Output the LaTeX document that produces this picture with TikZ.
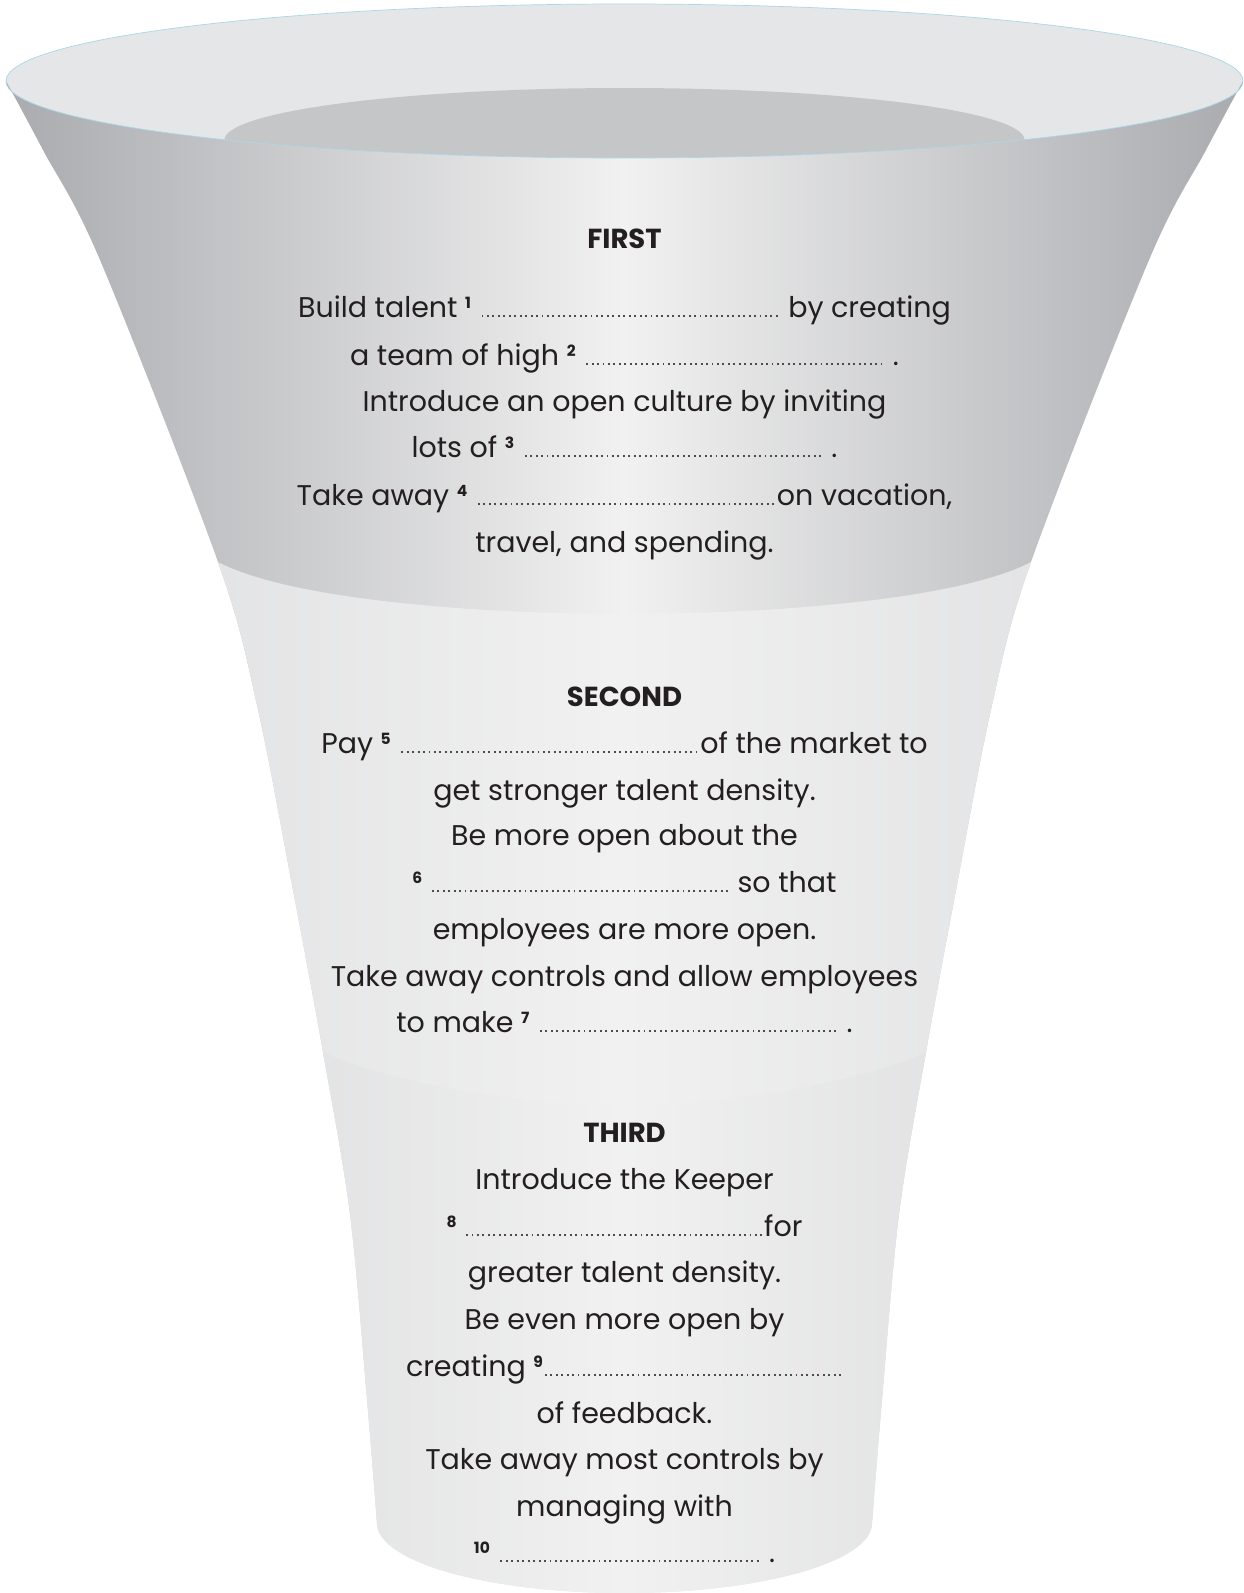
\documentclass[tikz,border=0pt]{standalone}
\usepackage{fontspec}
\setmainfont{Poppins}
\definecolor{rimtop}{HTML}{E5E6E8}
\definecolor{innerc}{HTML}{C5C6C8}
\definecolor{edgeA}{HTML}{AAABAF}
\definecolor{midc}{HTML}{F1F1F1}
\definecolor{edgeB}{HTML}{DCDDDF}
\definecolor{edgeC}{HTML}{D4D5D7}
\definecolor{rimline}{HTML}{A9D6E8}
\definecolor{ink}{HTML}{231F20}
\newcommand\sn[1]{\raisebox{9pt}{\fontsize{15.5}{15.5}\selectfont\bfseries #1}}
\newcommand\blank[1]{{\color{black!70}\cleaders\hbox to 5.45pt{\hss\rule{1.9pt}{1.9pt}\hss}\hskip #1\relax}}
\tikzset{
  txt/.style={anchor=base, text=ink, inner sep=0pt, font=\fontsize{28.5}{30}\selectfont},
  head/.style={anchor=base, text=ink, inner sep=0pt, font=\fontsize{27.5}{30}\selectfont\bfseries}
}
\def\bodypath{(6,81) -- plot[smooth,tension=0.55] coordinates {(6,81) (43,150) (100,260) (218,562) (257,705) (293,890) (323,1052) (350,1214) (367,1399) (377,1523)} -- plot[domain=180:360,samples=80] ({624.5+247.5*cos(\x)},{1523-70*sin(\x)}) -- plot[smooth,tension=0.55] coordinates {(872,1523) (882,1399) (899,1214) (926,1052) (956,890) (992,705) (1031,562) (1149,260) (1206,150) (1243,81)} -- plot[domain=180:360,samples=120] ({624.5-618.5*cos(\x)},{81-77*sin(\x)}) -- cycle}
\begin{document}
\begin{tikzpicture}[x=1pt,y=-1pt]
\useasboundingbox (0,0) rectangle (1244,1593);
% rim interior
\fill[rimtop] (624.5,81) ellipse [x radius=618.5, y radius=77];
\begin{scope}
  \clip (624.5,81) ellipse [x radius=618.5, y radius=77];
  \fill[innerc] (624.5,140) ellipse [x radius=400, y radius=52];
\end{scope}
% body
\begin{scope}
  \clip \bodypath;
  \shade[left color=edgeA, right color=edgeA, middle color=midc] (6,0) rectangle (1243,1593);
  \shade[left color=edgeB, right color=edgeB, middle color=midc]
    (0,560) -- (218,562) .. controls (290,600) and (480,614) .. (624.5,614)
    .. controls (769,614) and (959,600) .. (1031,562) -- (1244,560) -- (1244,1593) -- (0,1593) -- cycle;
  \shade[left color=edgeC, right color=edgeC, middle color=midc]
    (0,1050) -- (323,1052) .. controls (380,1080) and (520,1106) .. (624.5,1106)
    .. controls (729,1106) and (869,1080) .. (926,1052) -- (1244,1050) -- (1244,1593) -- (0,1593) -- cycle;
\end{scope}
\draw[rimline, line width=0.7pt] (624.5,81) ellipse [x radius=618.5, y radius=77];
% FIRST
\node[head] (h1) at (624.5,248) {FIRST};
\node[txt] (a1) at (624.5,317) {Build talent \sn{1} \blank{302pt} by creating};
\node[txt] (a2) at (624.5,365) {a team of high \sn{2} \blank{302pt} .};
\node[txt] (a3) at (624.5,411) {Introduce an open culture by inviting};
\node[txt] (a4) at (624.5,457) {lots of \sn{3} \blank{302pt} .};
\node[txt] (a5) at (624.5,505) {Take away \sn{4} \blank{302pt}on vacation,};
\node[txt] (a6) at (624.5,552) {travel, and spending.};
% SECOND
\node[head] (h2) at (624.5,706) {SECOND};
\node[txt] (b1) at (624.5,753) {Pay \sn{5} \blank{302pt}of the market to};
\node[txt] (b2) at (624.5,800) {get stronger talent density.};
\node[txt] (b3) at (624.5,845) {Be more open about the};
\node[txt] (b4) at (624.5,892) {\sn{6} \blank{300pt} so that};
\node[txt] (b5) at (624.5,939) {employees are more open.};
\node[txt] (b6) at (624.5,986) {Take away controls and allow employees};
\node[txt] (b7) at (624.5,1032) {to make \sn{7} \blank{302pt} .};
% THIRD
\node[head] (h3) at (624.5,1142) {THIRD};
\node[txt] (c1) at (624.5,1189) {Introduce the Keeper};
\node[txt] (c2) at (624.5,1236) {\sn{8} \blank{300pt}for};
\node[txt] (c3) at (624.5,1282) {greater talent density.};
\node[txt] (c4) at (624.5,1329) {Be even more open by};
\node[txt] (c5) at (624.5,1376) {creating \sn{9}\blank{300pt}};
\node[txt] (c6) at (624.5,1423) {of feedback.};
\node[txt] (c7) at (624.5,1469) {Take away most controls by};
\node[txt] (c8) at (624.5,1516) {managing with};
\node[txt] (c9) at (624.5,1562) {\sn{10} \blank{264pt} .};
\end{tikzpicture}
\end{document}
